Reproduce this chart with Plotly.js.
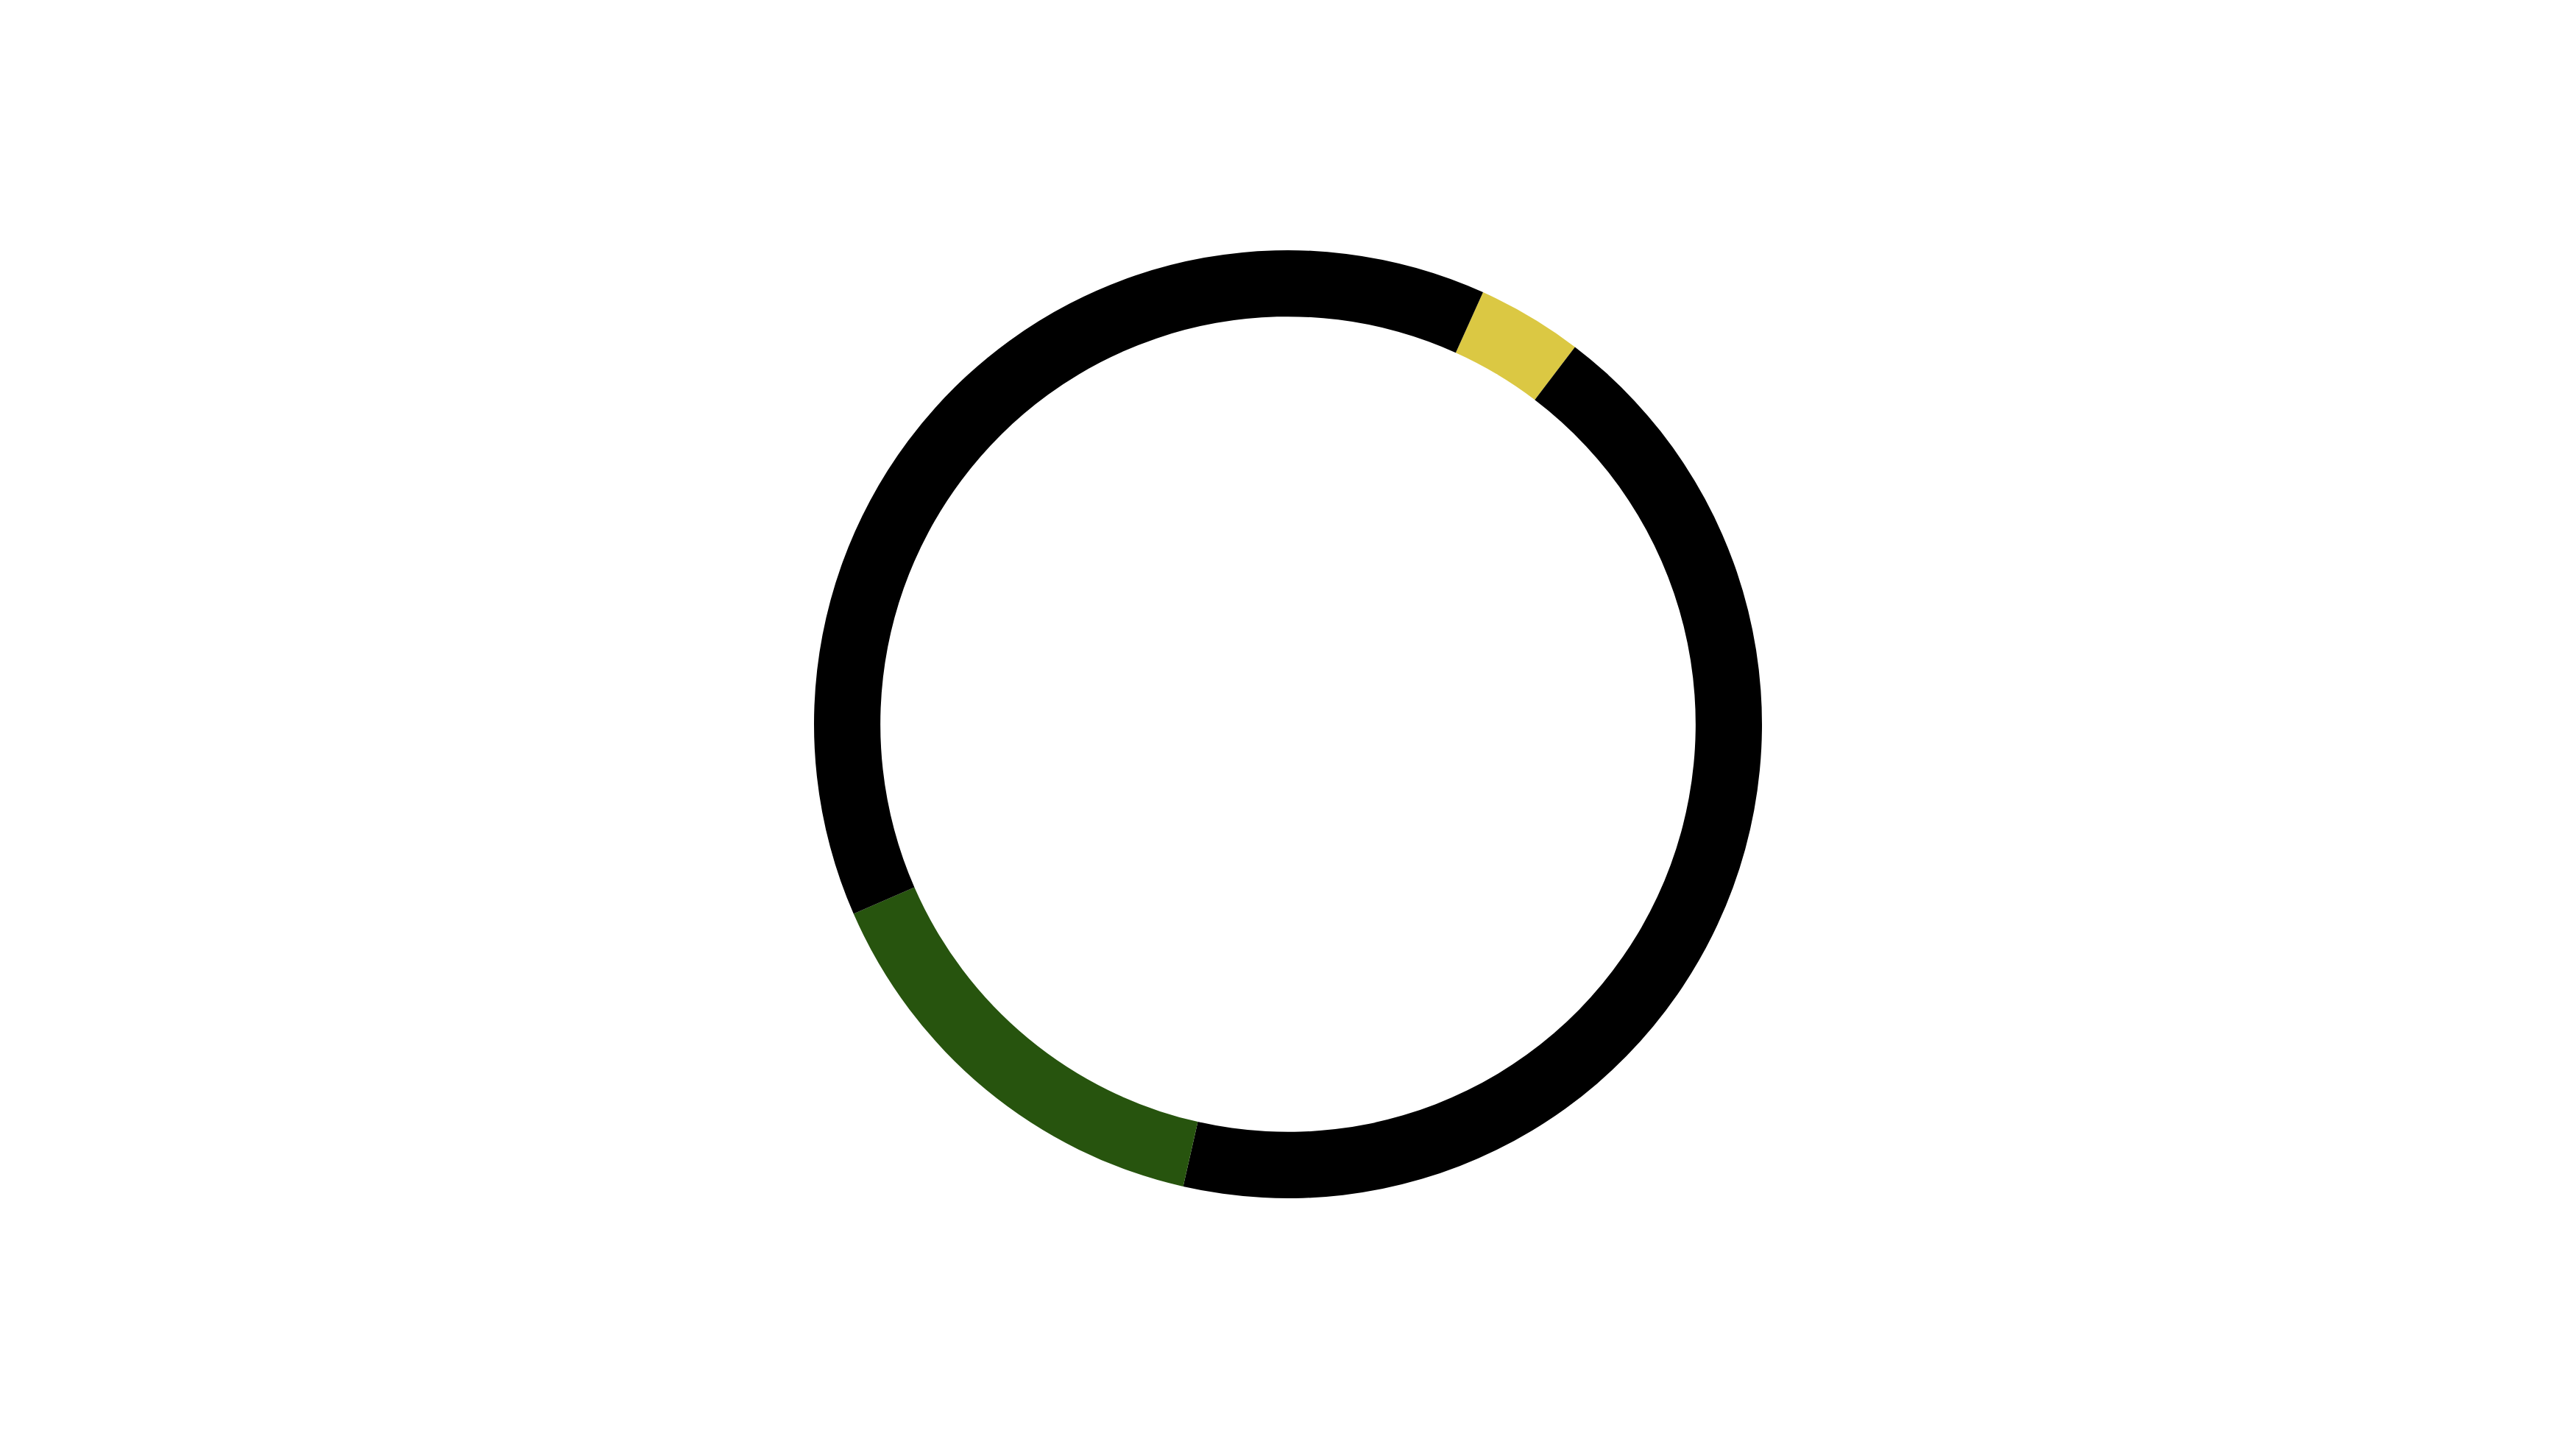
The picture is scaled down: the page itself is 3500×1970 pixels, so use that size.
<!DOCTYPE html>
<html>
<head>
<meta charset="utf-8">
<script src="https://cdn.plot.ly/plotly-3.0.1.min.js"></script>
<style>
  html, body { margin: 0; padding: 0; background: #ffffff; }
  #ringDiv { width: 3500px; height: 1970px; }
</style>
</head>
<body>
<div id="ringDiv"></div>
<script>
// slice shares, read clockwise from the yellow one
var sliceLabels = ["Segment A", "Segment B", "Segment C", "Segment D"];
var sliceValues = [3.6, 43.2, 14.9, 38.3];
var sliceColors = ["#dbc843", "#000000", "#27540e", "#000000"];

var data = [{
  type: "pie",
  labels: sliceLabels,
  values: sliceValues,
  marker: {
    colors: sliceColors,
    line: { width: 0 }
  },
  hole: 0.86,
  sort: false,
  direction: "clockwise",
  rotation: 24.3,
  textinfo: "none",
  hoverinfo: "label+percent"
}];

var layout = {
  width: 3500,
  height: 1970,
  showlegend: false,
  margin: { l: 80, r: 80, t: 340, b: 342 },
  paper_bgcolor: "#ffffff",
  plot_bgcolor: "#ffffff"
};

Plotly.newPlot("ringDiv", data, layout, { displayModeBar: false });
</script>
</body>
</html>
